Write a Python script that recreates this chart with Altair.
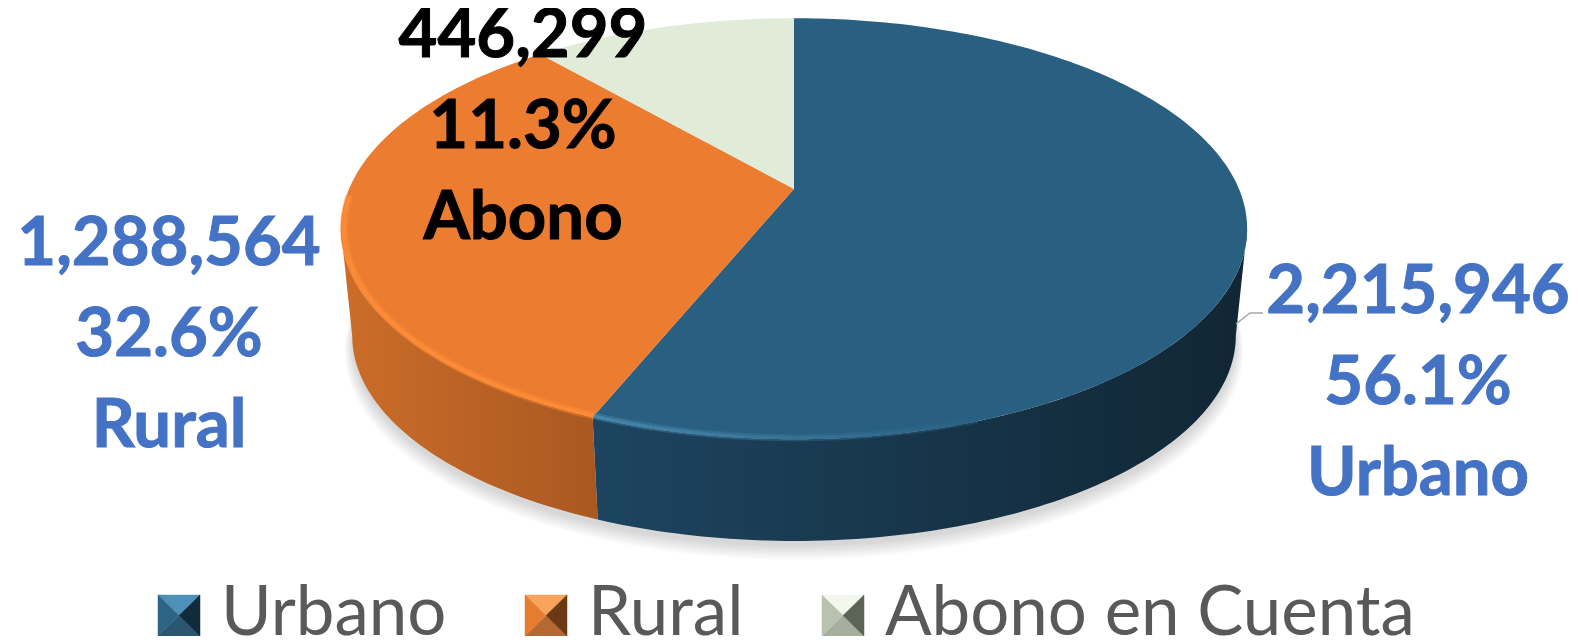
import math
import altair as alt
import pandas as pd

# ---- data ----
categories = ["Urbano", "Rural", "Abono en Cuenta"]
short_names = ["Urbano", "Rural", "Abono"]
values = [2215946, 1288564, 446299]
top_colors = ["#296082", "#EC7C30", "#E0ECD8"]

# ---- pie drawing parameters ----
W, H = 1562, 628
CX, CY = 794, 189          # apex in page px
RX, RY = 445, 203
K = 0.1886                 # perspective
S = 0.975                  # lower rim scale
D = 108 / RX               # depth in scale units
YUNIT = RX                 # one data unit = RX px on both axes

x_dom = [(8 - CX) / YUNIT, (8 + W - CX) / YUNIT]
y_dom = [(CY - 8 - H) / YUNIT, (CY - 8) / YUNIT]
x_scale = alt.Scale(domain=x_dom, range=[0, W], nice=False, zero=False)
y_scale = alt.Scale(domain=y_dom, range=[H, 0], nice=False, zero=False)


def rim(a, f=1.0):
    r = math.radians(a)
    w = 1 + K * math.cos(r)
    return f * math.sin(r) / w, f * (RY / RX) * math.cos(r) / w


def rim_lo(a, extra=1.0, shift=0.0):
    x, y = rim(a)
    return x * S * extra, y * S * extra - D - shift


def angles(a0, a1, step=1.0):
    n = max(2, int(abs(a1 - a0) / step) + 1)
    return [a0 + (a1 - a0) * i / (n - 1) for i in range(n)]


def poly_df(pts):
    return pd.DataFrame({"x": [p[0] for p in pts], "y": [p[1] for p in pts],
                         "o": range(len(pts))})


def poly(pts, **mark):
    return alt.Chart(poly_df(pts)).mark_line(**mark).encode(
        x=alt.X("x:Q", scale=x_scale, axis=None),
        y=alt.Y("y:Q", scale=y_scale, axis=None),
        order="o:Q",
    )


def px_poly(pts, **mark):
    df = pd.DataFrame({"px": [p[0] - 8 for p in pts], "py": [p[1] - 8 for p in pts],
                       "o": range(len(pts))})
    return alt.Chart(df).mark_line(**mark).encode(
        x=alt.X("px:Q", scale=None), y=alt.Y("py:Q", scale=None), order="o:Q")


def hgrad(c0, c1):
    return alt.Gradient(gradient="linear", x1=0, x2=1, y1=0, y2=0,
                        stops=[alt.GradientStop(offset=0, color=c0),
                               alt.GradientStop(offset=1, color=c1)])


total = sum(values)
edges = [0.0]
for v in values:
    edges.append(edges[-1] + 360.0 * v / total)

layers = []

# soft shadow under the pie
for i in range(8):
    grow = 1.0 + 0.0024 * i
    pts = [rim_lo(a, grow, 0.012 + 0.003 * i) for a in angles(0, 360, 2)]
    layers.append(poly(pts, fill="#000000", fillOpacity=0.02, strokeWidth=0, stroke="transparent"))

# side walls (between the two silhouette tangents)
wall_a = [(100.9, edges[1]), (edges[1], 259.1)]
wall_c = [("#1D4560", "#112634"), ("#CC6D29", "#A95821")]
for (a0, a1), (c0, c1) in zip(wall_a, wall_c):
    pts = [rim(a) for a in angles(a0, a1)] + [rim_lo(a) for a in angles(a1, a0)]
    layers.append(poly(pts, fill=hgrad(c0, c1), strokeWidth=0, stroke="transparent"))

# top faces
for i, name in enumerate(categories):
    pts = [(0.0, 0.0)] + [rim(a) for a in angles(edges[i], edges[i + 1])] + [(0.0, 0.0)]
    layers.append(poly(pts, fill=top_colors[i], strokeWidth=0, stroke="transparent"))

# bevel highlights along the front rim (wide faint pass, then a narrow one)
blue_arc = [rim(a, 0.994) for a in angles(edges[1], 160)]
orange_arc = [rim(a, 0.993) for a in angles(268, edges[1])]
layers.append(poly(blue_arc, stroke=hgrad("#4A8BB0", "#296082"), strokeWidth=7, strokeOpacity=0.4))
layers.append(poly(blue_arc, stroke=hgrad("#4A8BB0", "#296082"), strokeWidth=3, strokeOpacity=0.8))
layers.append(poly(orange_arc, stroke="#FF8C36", strokeWidth=8, strokeOpacity=0.4))
layers.append(poly(orange_arc, stroke="#FF8C36", strokeWidth=4, strokeOpacity=0.8))

# leader line
leader_x = [1236, 1250, 1263]
leader_y = [324, 313, 313]
layers.append(px_poly(list(zip(leader_x, leader_y)), stroke="#A6A6A6", strokeWidth=1.5))

# data labels
label_x = [1418, 169, 523]
label_y = [313, 265, 57]
label_c = ["#4472C4", "#4472C4", "#000000"]
for i in range(3):
    txt = f"{values[i]:,}\n{100 * values[i] / total:.1f}%\n{short_names[i]}"
    layers.append(alt.Chart(pd.DataFrame({"t": [txt]})).mark_text(
        font="Lato", fontWeight="bold", fontSize=67, lineBreak="\n", lineHeight=91,
        align="center", baseline="alphabetic", color=label_c[i],
        stroke=label_c[i], strokeWidth=1).encode(
        x=alt.value(label_x[i] - 8), y=alt.value(label_y[i] - 8), text="t:N"))

# beveled legend swatches, placed under the (transparent) legend symbols
swatch_left = [158, 525, 822]
swatch_top, swatch_w, swatch_h = 595, 42, 41
bevels = [
    ("#4E90B8", "#2A566F", "#2D6485", "#112B3C"),
    ("#F9A45C", "#B46A32", "#E57C30", "#6B3A14"),
    ("#F4F8EC", "#A6AE9E", "#B8C2AE", "#5C6458"),
]
for left, (c_top, c_bot, c_left, c_right) in zip(swatch_left, bevels):
    x0, x1 = left, left + swatch_w
    y0, y1 = swatch_top, swatch_top + swatch_h
    xm, ym = (x0 + x1) / 2, (y0 + y1) / 2
    for col, tri in ((c_top, [(x0, y0), (x1, y0), (xm, ym), (x0, y0)]),
                     (c_bot, [(x0, y1), (x1, y1), (xm, ym), (x0, y1)]),
                     (c_left, [(x0, y0), (x0, y1), (xm, ym), (x0, y0)]),
                     (c_right, [(x1, y0), (x1, y1), (xm, ym), (x1, y0)])):
        layers.append(px_poly(tri, fill=col, stroke=col, strokeWidth=0.5))

# legend
layers.append(alt.Chart(pd.DataFrame({"c": categories})).mark_square(opacity=0, size=1).encode(
    x=alt.value(0), y=alt.value(0),
    color=alt.Color("c:N", scale=alt.Scale(domain=categories, range=top_colors),
                    legend=alt.Legend(
                        title=None, orient="none", legendX=138, legendY=571,
                        direction="horizontal", columns=3, columnPadding=66,
                        symbolType="square", symbolSize=1764, symbolOpacity=0,
                        symbolStrokeWidth=0, labelFontSize=69, labelFont="Lato",
                        labelColor="#595959", labelOffset=6, labelLimit=700))))

chart = alt.layer(*layers).resolve_scale(x="shared", y="shared").properties(
    width=W, height=H, padding=0, autosize=alt.AutoSizeParams(type="none"),
).configure_view(stroke=None)

chart.save("out.html", embed_options={"renderer": "svg", "actions": False})
